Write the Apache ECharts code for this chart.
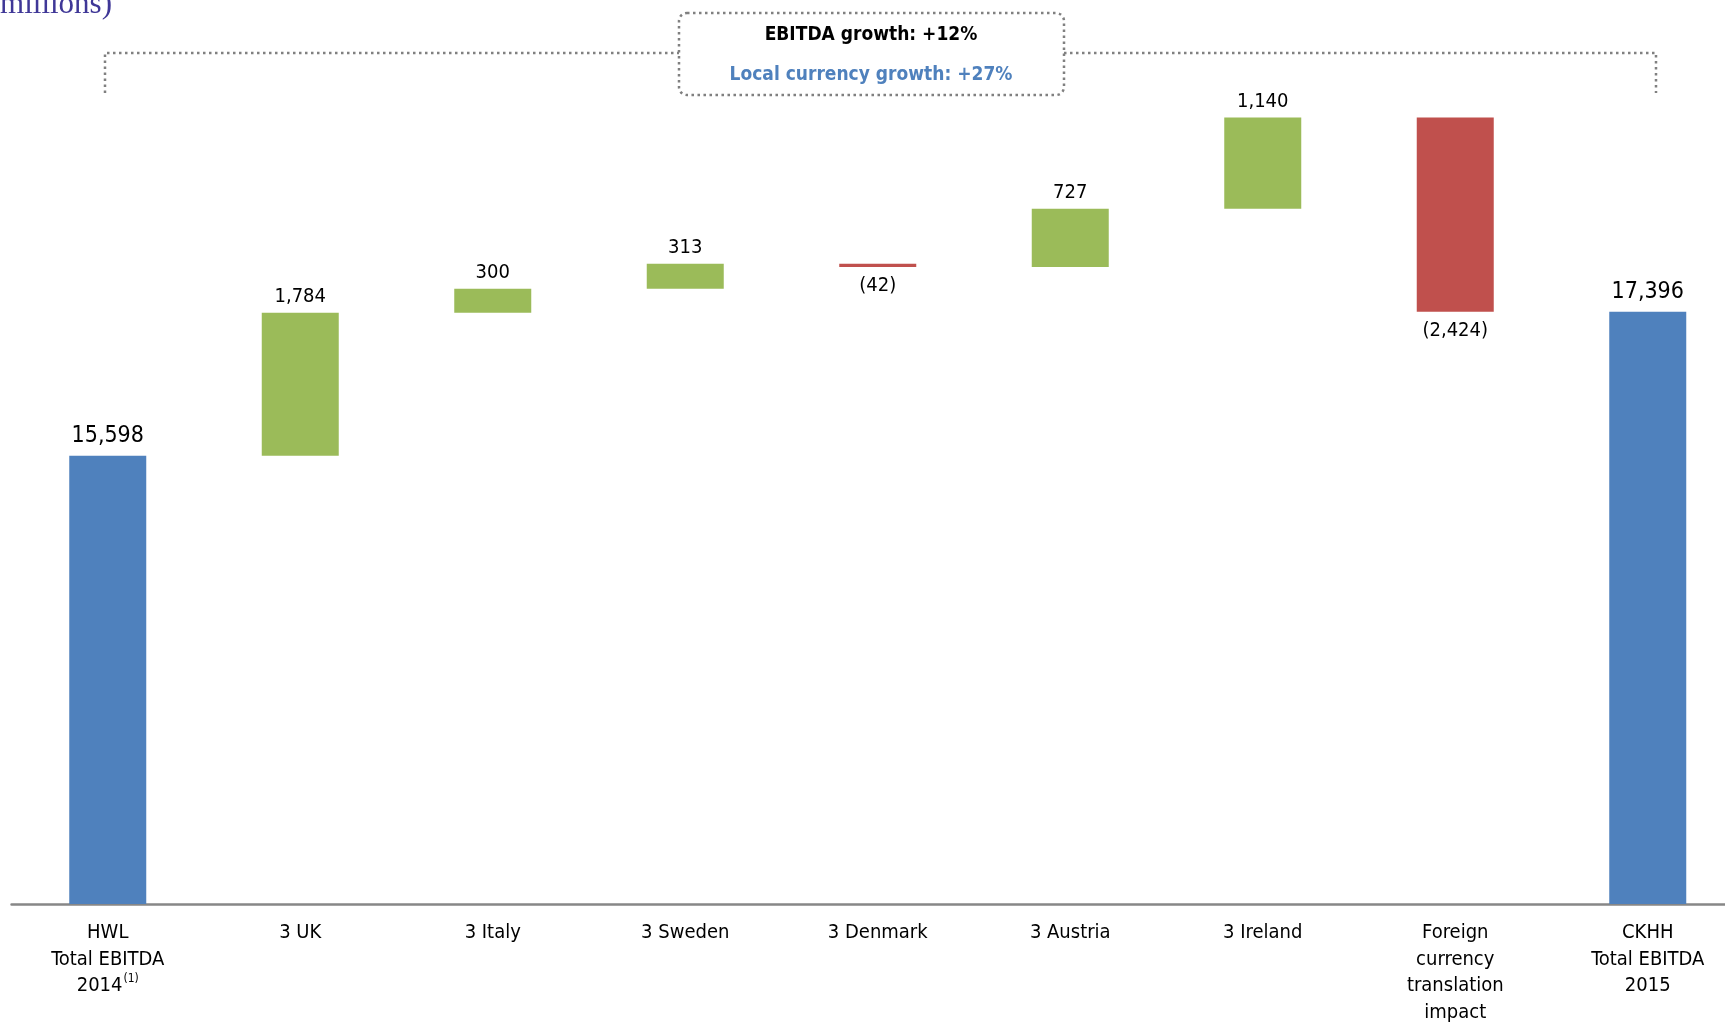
<!DOCTYPE html>
<html>
<head>
<meta charset="utf-8">
<script src="https://cdn.jsdelivr.net/npm/echarts@6/dist/echarts.min.js"></script>
<style>
html,body{margin:0;padding:0;background:#fff;overflow:hidden;}
#chart{width:1745px;height:1023px;}
</style>
</head>
<body>
<div id="chart"></div>
<script>
const categories = ['HWL\nTotal EBITDA\n2014', '3 UK', '3 Italy', '3 Sweden', '3 Denmark', '3 Austria', '3 Ireland', 'Foreign\ncurrency\ntranslation\nimpact', 'CKHH\nTotal EBITDA\n2015'];
const values = [15598, 1784, 300, 313, -42, 727, 1140, -2424, 17396];
const kinds = ['total', 'delta', 'delta', 'delta', 'delta', 'delta', 'delta', 'delta', 'total'];
const headline = 'EBITDA growth: +12%';
const subline = 'Local currency growth: +27%';
const unitText = '(HK$ millions)';

const COLORS = { total: '#4F81BD', up: '#9BBB59', down: '#C0504D' };
const FONT = "'Liberation Sans Narrow', 'DejaVu Sans Condensed', 'Roboto', sans-serif";

function fmt(n) {
  const s = Math.abs(n).toLocaleString('en-US');
  return n < 0 ? '(' + s + ')' : s;
}

const baseData = [];
const barData = [];
let cum = 0;
values.forEach((v, i) => {
  if (kinds[i] === 'total') {
    baseData.push(0);
    cum = v;
    barData.push({
      value: v,
      itemStyle: { color: COLORS.total },
      label: { position: 'top', fontSize: 23, distance: 8 }
    });
  } else {
    const start = cum;
    const end = cum + v;
    baseData.push(Math.min(start, end));
    cum = end;
    barData.push({
      value: Math.abs(v),
      itemStyle: { color: v >= 0 ? COLORS.up : COLORS.down },
      label: { position: v >= 0 ? 'top' : 'bottom', fontSize: 20, distance: v >= 0 ? 6 : 9 }
    });
  }
});

const chart = echarts.init(document.getElementById('chart'));
const dash = { stroke: '#808080', lineWidth: 2.5, lineDash: [2.5, 3.5], fill: null };

chart.setOption({
  animation: false,
  backgroundColor: '#fff',
  grid: { left: 11.5, right: 1, top: 23, bottom: 119, containLabel: false, outerBoundsMode: 'none' },
  xAxis: {
    type: 'category',
    data: categories,
    axisTick: { show: false },
    axisLine: { lineStyle: { color: '#878787', width: 2.5 } },
    axisLabel: {
      interval: 0,
      margin: 16,
      color: '#000',
      fontFamily: FONT,
      fontSize: 20,
      lineHeight: 26.5,
      formatter: (v, i) => i === 0 ? v + '{sup|(1)}' : v,
      rich: {
        sup: { fontSize: 12, fontFamily: FONT, color: '#000', verticalAlign: 'top', lineHeight: 26.5, padding: [0, 0, 8, 1] }
      }
    }
  },
  yAxis: {
    type: 'value',
    min: 10000,
    max: 21000,
    show: false,
    splitLine: { show: false }
  },
  series: [
    {
      type: 'bar',
      stack: 'w',
      data: baseData,
      itemStyle: { color: 'transparent' },
      barWidth: 77,
      silent: true
    },
    {
      type: 'bar',
      stack: 'w',
      data: barData,
      barWidth: 77,
      label: {
        show: true,
        color: '#000',
        fontFamily: FONT,
        formatter: p => fmt(values[p.dataIndex])
      }
    }
  ],
  graphic: [
    {
      type: 'text', x: 112, y: 20,
      style: { text: unitText, align: 'right', verticalAlign: 'bottom', fill: '#3F3797', font: "31px 'Liberation Serif', 'DejaVu Serif', serif" }
    },
    { type: 'polyline', shape: { points: [[105, 93], [105, 53], [679, 53]] }, style: dash },
    { type: 'polyline', shape: { points: [[1064, 53], [1656, 53], [1656, 93]] }, style: dash },
    { type: 'rect', shape: { x: 679, y: 13, width: 385, height: 82, r: 8 }, style: dash },
    {
      type: 'text', x: 871, y: 35,
      style: { text: headline, align: 'center', verticalAlign: 'middle', fill: '#000', font: "bold 19px " + FONT }
    },
    {
      type: 'text', x: 871, y: 75,
      style: { text: subline, align: 'center', verticalAlign: 'middle', fill: '#4F81BD', font: "bold 19px " + FONT }
    }
  ]
});
</script>
</body>
</html>
